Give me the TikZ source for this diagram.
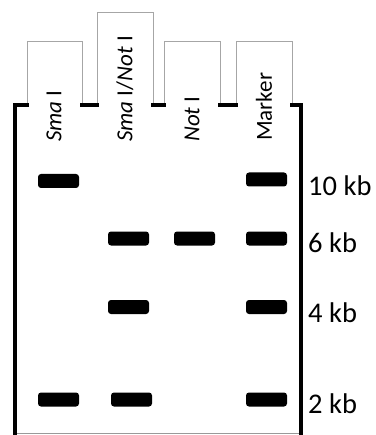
\documentclass[tikz,border=0pt]{standalone}
\usepackage{fontspec}
\setmainfont{Carlito}
\begin{document}
\begin{tikzpicture}[x=1pt,y=-1pt,
  tab/.style={draw=black!35,line width=0.6pt,fill=white},
  gelline/.style={line width=4pt,line cap=rect},
  band/.style={fill=black,rounded corners=3pt,minimum width=41pt,minimum height=14pt,inner sep=0pt},
  lanelabel/.style={rotate=90,anchor=west,font=\fontsize{23}{23}\selectfont,inner sep=0pt},
  kb/.style={anchor=base west,font=\fontsize{28.5}{28.5}\selectfont,inner sep=0pt}]
\useasboundingbox (0,0) rectangle (375,435);
% gel body
\fill[white] (15,105) rectangle (301,435);
\draw[black!40,line width=0.8pt] (15,433) -- (301,433);
% tabs
\draw[tab] (27,106) -- (27,41) -- (82,41) -- (82,106);
\draw[tab] (97,106) -- (97,12) -- (153,12) -- (153,106);
\draw[tab] (164,106) -- (164,41) -- (220,41) -- (220,106);
\draw[tab] (236,106) -- (236,41) -- (292,41) -- (292,106);
% gel outline
\draw[gelline] (15,435) -- (15,105) -- (27,105);
\draw[gelline] (82,105) -- (97,105);
\draw[gelline] (153,105) -- (164,105);
\draw[gelline] (220,105) -- (236,105);
\draw[gelline] (292,105) -- (301,105) -- (301,435);
% lane labels
\node[lanelabel] (l1) at (54,142) {\textit{Sma} I};
\node[lanelabel] (l2) at (125,142) {\textit{Sma} I/\textit{Not} I};
\node[lanelabel] (l3) at (192,142) {\textit{Not} I};
\node[lanelabel] (l4) at (264,141) {Marker};
% bands
\node[band] (b11) at (58.5,181) {};
\node[band] (b14) at (58.5,399.5) {};
\node[band] (b22) at (128.5,238.5) {};
\node[band] (b23) at (128.5,307) {};
\node[band] (b24) at (131.5,399.5) {};
\node[band] (b32) at (194.5,238.5) {};
\node[band] (m1) at (266.5,179.5) {};
\node[band] (m2) at (266.5,238.5) {};
\node[band] (m3) at (266.5,307) {};
\node[band] (m4) at (266.5,399.5) {};
% size labels
\node[kb] (k10) at (308,196) {10 kb};
\node[kb] (k6) at (308,252) {6 kb};
\node[kb] (k4) at (308,322) {4 kb};
\node[kb] (k2) at (308,413) {2 kb};
\end{tikzpicture}
\end{document}
